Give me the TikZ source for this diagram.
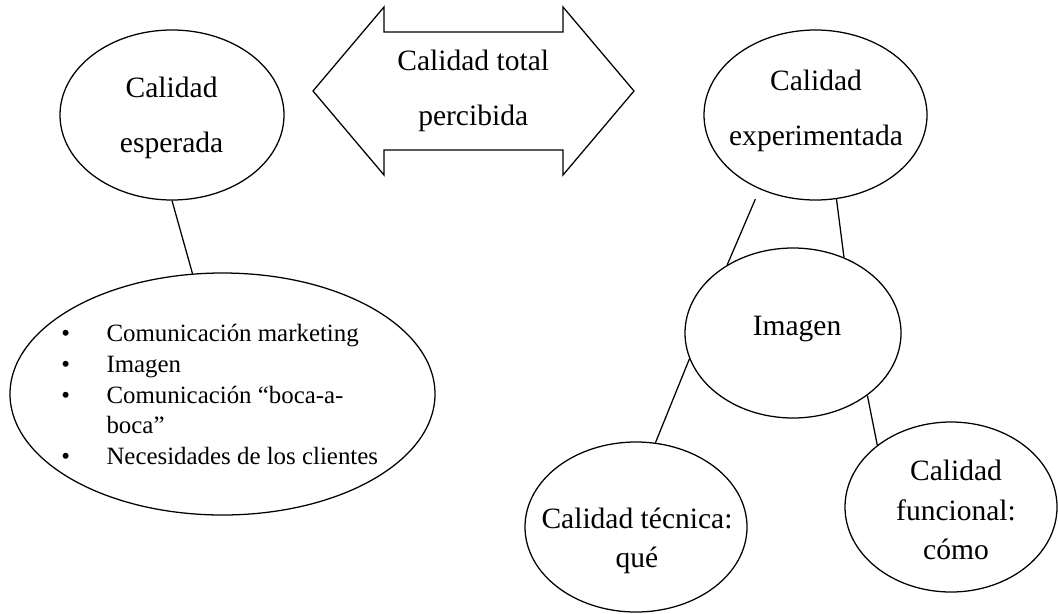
\documentclass[tikz,border=0pt]{standalone}
\usepackage{fontspec}
\setmainfont{Liberation Serif}
\usetikzlibrary{shapes.geometric}

\begin{document}
\begin{tikzpicture}[
    oval/.style={draw, ellipse, line width=0.9pt, inner sep=0pt},
    wide_text/.style={align=center, font=\fontsize{21}{39}\selectfont},
    tight_text/.style={align=center, font=\fontsize{21}{28}\selectfont},
    link/.style={line width=0.9pt}]

    \useasboundingbox (0,0) rectangle (26.45,-15.325);

    \node[oval, minimum width=5.6cm, minimum height=4.25cm] at (4.3,-2.875) (esperada) {};
    \node[wide_text] at (4.29,-2.95) (esperada_label) {Calidad\\esperada};

    \draw[line width=0.9pt] (7.825,-2.275) -- (9.6,-0.175) -- (9.6,-0.8) -- (14.075,-0.8)
        -- (14.075,-0.175) -- (15.85,-2.275) -- (14.075,-4.375) -- (14.075,-3.75)
        -- (9.6,-3.75) -- (9.6,-4.375) -- cycle;
    \node[wide_text] at (11.83,-2.28) (total_label) {Calidad total\\percibida};

    \node[oval, minimum width=5.575cm, minimum height=4.25cm] at (20.3875,-2.875) (experimentada) {};
    \node[wide_text] at (20.4,-2.78) (experimentada_label) {Calidad\\experimentada};

    \node[oval, minimum width=10.625cm, minimum height=6.05cm] at (5.5625,-9.85) (factores) {};
    \node[anchor=west, inner sep=0pt, font=\fontsize{17.7}{21.8}\selectfont] at (1.525,-9.925) (factores_label) {%
        \begin{tabular}{@{}l@{\hspace{26pt}}l@{}}
        \textbullet & Comunicación marketing\\
        \textbullet & Imagen\\
        \textbullet & Comunicación “boca-a-\\
                    & boca”\\
        \textbullet & Necesidades de los clientes
        \end{tabular}};

    \node[oval, minimum width=5.4cm, minimum height=4.25cm] at (19.825,-8.325) (imagen) {};
    \node[wide_text] at (19.925,-8.225) (imagen_label) {Imagen};

    \node[oval, minimum width=5.55cm, minimum height=4.25cm] at (15.9,-13.175) (tecnica) {};
    \node[tight_text] at (15.925,-13.525) (tecnica_label) {Calidad técnica:\\qué};

    \node[oval, minimum width=5.3cm, minimum height=4.25cm] at (23.775,-12.675) (funcional) {};
    \node[tight_text] at (23.9,-12.75) (funcional_label) {Calidad\\funcional:\\cómo};

    \draw[link] (esperada.south) -- (factores.104);
    \draw[link, shorten <=0.27cm] (experimentada.-127) -- (imagen.134);
    \draw[link] (experimentada.-76) -- (imagen.56);
    \draw[link] (imagen.-166) -- (tecnica.77);
    \draw[link] (imagen.-40) -- (funcional.140);

\end{tikzpicture}
\end{document}
